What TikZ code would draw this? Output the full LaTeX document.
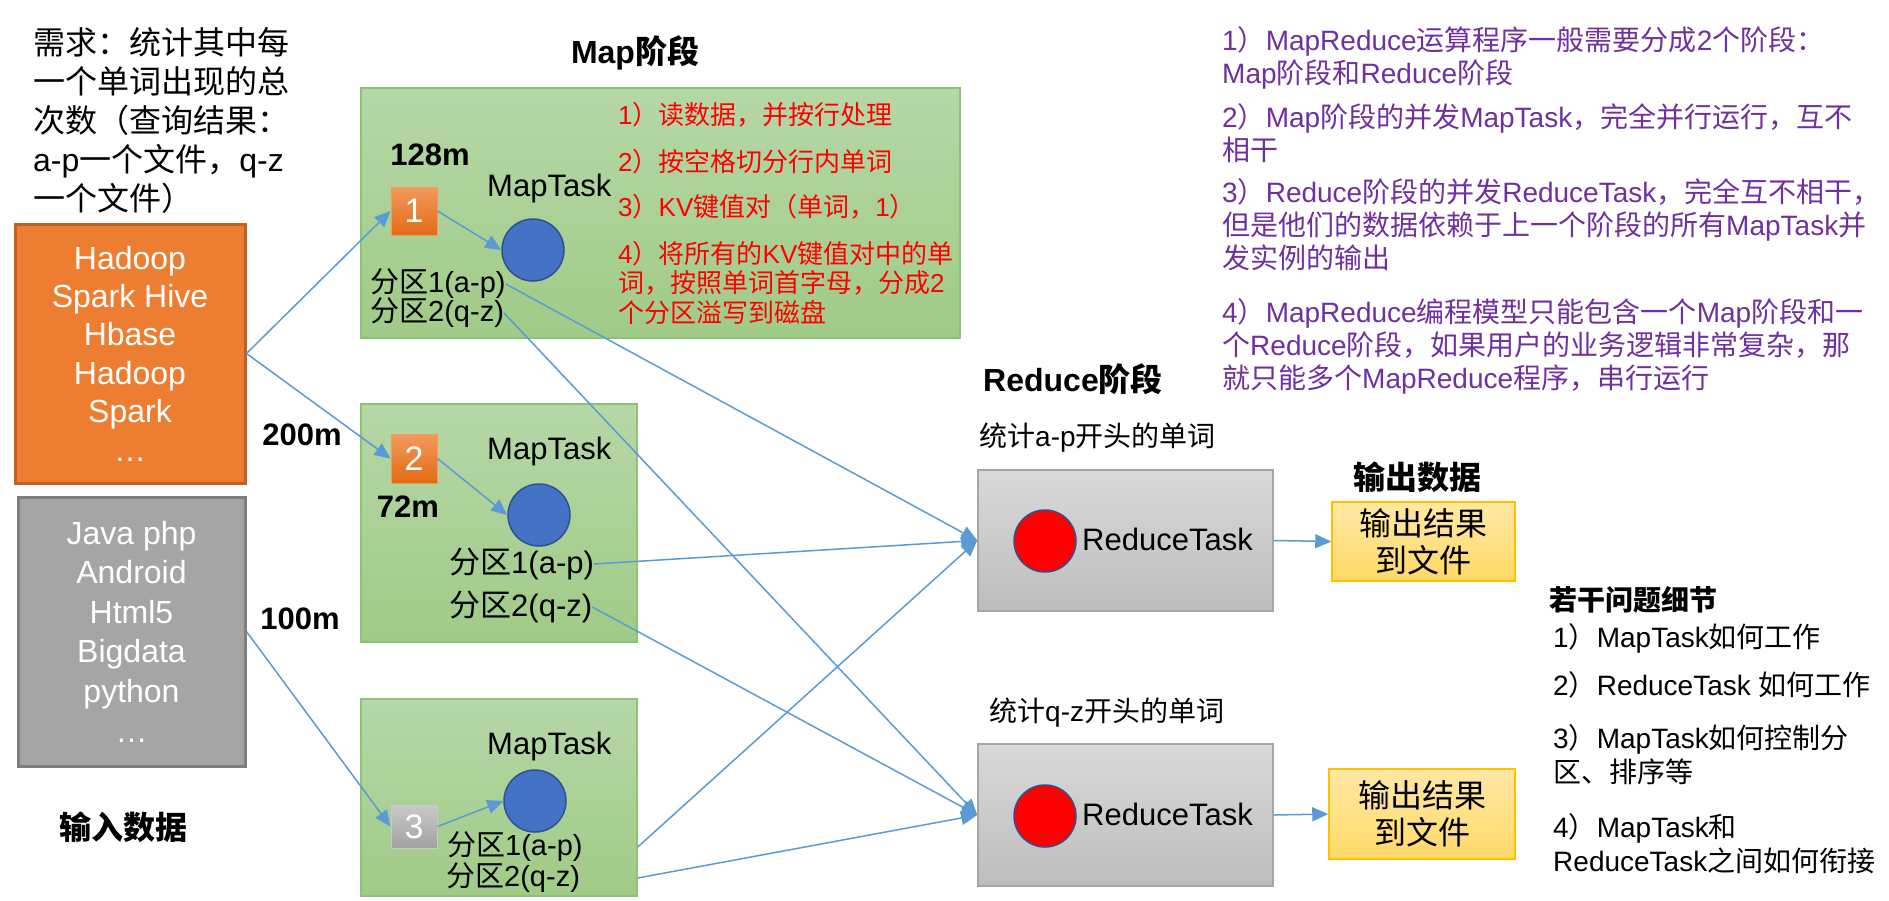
\documentclass[tikz,border=0pt]{standalone}
\usepackage{fontspec}
\setmainfont{Liberation Sans}
\newfontfamily\cjkfont{Noto Sans CJK SC}
\usetikzlibrary{arrows.meta}
\XeTeXinterchartokenstate=1
\newXeTeXintercharclass\cjkcls
\count255="3000
\loop\XeTeXcharclass\count255=\cjkcls\advance\count255 by 1 \ifnum\count255<"3040 \repeat
\count255="4E00
\loop\XeTeXcharclass\count255=\cjkcls\advance\count255 by 1 \ifnum\count255<"A000 \repeat
\count255="FF00
\loop\XeTeXcharclass\count255=\cjkcls\advance\count255 by 1 \ifnum\count255<"FFF0 \repeat
\XeTeXinterchartoks 0 \cjkcls={\begingroup\cjkfont}
\XeTeXinterchartoks 4095 \cjkcls={\begingroup\cjkfont}
\XeTeXinterchartoks \cjkcls 0={\endgroup}
\XeTeXinterchartoks \cjkcls 4095={\endgroup}
\definecolor{arrowblue}{HTML}{5B9BD5}
\definecolor{orgfill}{HTML}{ED7D31}
\definecolor{orgdraw}{HTML}{BE6128}
\definecolor{grayfill}{HTML}{A5A5A5}
\definecolor{graydraw}{HTML}{7F7F7F}
\definecolor{maptop}{HTML}{B6D7A7}
\definecolor{mapbot}{HTML}{A0CB87}
\definecolor{mapdraw}{HTML}{8CC474}
\definecolor{redtxt}{HTML}{FF0000}
\definecolor{purptxt}{HTML}{7030A0}
\definecolor{bluefill}{HTML}{4472C4}
\definecolor{bluedraw}{HTML}{2F528F}
\definecolor{redtop}{HTML}{D9D9D9}
\definecolor{redbot}{HTML}{BDBDBD}
\definecolor{reddraw}{HTML}{A6A6A6}
\definecolor{outtop}{HTML}{FFE8A6}
\definecolor{outbot}{HTML}{FFD966}
\definecolor{outdraw}{HTML}{FFC000}
\definecolor{sotop}{HTML}{F39A5C}
\definecolor{sobot}{HTML}{E26B14}
\definecolor{sgtop}{HTML}{C9C9C9}
\definecolor{sgbot}{HTML}{A2A2A2}
\tikzset{
  conn/.style={draw=arrowblue, line width=1.5pt, -{Triangle[length=16pt,width=14pt]}},
  mapbox/.style={draw=mapdraw, line width=1.5pt, top color=maptop, bottom color=mapbot, inner sep=0},
  smallorange/.style={draw=sotop, line width=1pt, top color=sotop, bottom color=sobot, text=white, inner sep=0, font=\fontsize{34}{38}\selectfont},
  smallgray/.style={draw=sgtop, line width=1pt, top color=sgtop, bottom color=sgbot, text=white, inner sep=0, font=\fontsize{34}{38}\selectfont},
  bluedot/.style={circle, fill=bluefill, draw=bluedraw, line width=1.5pt, minimum size=62pt, inner sep=0},
  reddot/.style={circle, fill=red, draw=bluedraw, line width=1.5pt, minimum size=62pt, inner sep=0},
  redbox/.style={draw=reddraw, line width=1.5pt, top color=redtop, bottom color=redbot, inner sep=0},
  outbox/.style={draw=outdraw, line width=1.5pt, top color=outtop, bottom color=outbot, align=center, inner sep=0, font=\fontsize{32}{37}\selectfont},
  lbl/.style={inner sep=0, anchor=west},
  task/.style={lbl, font=\fontsize{31}{36}\selectfont},
  part/.style={lbl, font=\fontsize{31}{27}\selectfont},
  tightpart/.style={lbl, font=\fontsize{29}{26}\selectfont},
  boldtitle/.style={inner sep=0, font=\fontsize{32}{38}\selectfont\bfseries},
  redlist/.style={lbl, align=left, text=redtxt, font=\fontsize{26}{29.5}\selectfont},
  purplist/.style={lbl, align=left, text=purptxt, font=\fontsize{28}{33}\selectfont},
  qlist/.style={lbl, align=left, font=\fontsize{28}{34}\selectfont},
}
\begin{document}
\begin{tikzpicture}[x=1pt,y=-1pt]
\fill[white] (0,0) rectangle (1889,900);
\useasboundingbox (0,0) rectangle (1889,900);
% left side
\node[lbl, align=left, font=\fontsize{32}{39}\selectfont] (req) at (33,120) {需求：统计其中每\\一个单词出现的总\\次数（查询结果：\\a-p一个文件，q-z\\一个文件）};
\node[draw=orgdraw, fill=orgfill, line width=3pt, minimum width=230pt, minimum height=259pt, align=center, text=white, inner sep=0, font=\fontsize{32}{38.4}\selectfont] (orange) at (130,353.5) {Hadoop\\Spark Hive\\Hbase\\Hadoop\\Spark\\…};
\node[draw=graydraw, fill=grayfill, line width=3pt, minimum width=227pt, minimum height=269pt, align=center, text=white, inner sep=0, font=\fontsize{32}{39.6}\selectfont] (gray) at (131.5,631.5) {Java php\\Android\\Html5\\Bigdata\\python\\…};
\node[boldtitle] (inlbl) at (123,827) {输入数据};
% map stage
\node[boldtitle] (maptitle) at (635,53) {Map阶段};
\node[mapbox, minimum width=599pt, minimum height=250pt] (m1) at (660.5,213) {};
\node[mapbox, minimum width=276pt, minimum height=238pt] (m2) at (499,523) {};
\node[mapbox, minimum width=276pt, minimum height=197pt] (m3) at (499,797.5) {};
\node[smallorange, minimum width=46pt, minimum height=48pt] (b1) at (414,211) {1};
\node[smallorange, minimum width=46pt, minimum height=49pt] (b2) at (414,458.5) {2};
\node[smallgray, minimum width=46pt, minimum height=43pt] (b3) at (414,826.5) {3};
\node[bluedot] (c1) at (533,250) {};
\node[bluedot] (c2) at (539,515) {};
\node[bluedot] (c3) at (535,801) {};
\node[task] (t1) at (487,188) {MapTask};
\node[task] (t2) at (487,451) {MapTask};
\node[task] (t3) at (487,746) {MapTask};
\node[tightpart] (p11) at (370,284) {分区1(a-p)};
\node[tightpart] (p12) at (370,313) {分区2(q-z)};
\node[part] (p21) at (449,564) {分区1(a-p)};
\node[part] (p22) at (449,607) {分区2(q-z)};
\node[tightpart] (p31) at (447,847) {分区1(a-p)};
\node[tightpart] (p32) at (446,878) {分区2(q-z)};
\node[inner sep=0, font=\fontsize{31}{36}\selectfont\bfseries] (s128) at (430,155) {128m};
\node[inner sep=0, font=\fontsize{31}{36}\selectfont\bfseries] (s72) at (408,507) {72m};
\node[inner sep=0, font=\fontsize{31}{36}\selectfont\bfseries] (s200) at (302,435) {200m};
\node[inner sep=0, font=\fontsize{31}{36}\selectfont\bfseries] (s100) at (300,619) {100m};
\node[redlist] (r1) at (618,115) {1）读数据，并按行处理};
\node[redlist] (r2) at (618,162) {2）按空格切分行内单词};
\node[redlist] (r3) at (618,207) {3）KV键值对（单词，1）};
\node[redlist] (r4) at (618,282.5) {4）将所有的KV键值对中的单\\词，按照单词首字母，分成2\\个分区溢写到磁盘};
% purple notes
\node[purplist] (n1) at (1222,57.5) {1）MapReduce运算程序一般需要分成2个阶段：\\Map阶段和Reduce阶段};
\node[purplist] (n2) at (1222,133.5) {2）Map阶段的并发MapTask，完全并行运行，互不\\相干};
\node[purplist] (n3) at (1222,225) {3）Reduce阶段的并发ReduceTask，完全互不相干，\\但是他们的数据依赖于上一个阶段的所有MapTask并\\发实例的输出};
\node[purplist] (n4) at (1222,346.5) {4）MapReduce编程模型只能包含一个Map阶段和一\\个Reduce阶段，如果用户的业务逻辑非常复杂，那\\就只能多个MapReduce程序，串行运行};
% reduce stage
\node[boldtitle] (redtitle) at (1073,379) {Reduce阶段};
\node[lbl, font=\fontsize{28}{32}\selectfont] (ap) at (979,438) {统计a-p开头的单词};
\node[lbl, font=\fontsize{28}{32}\selectfont] (qz) at (989,713) {统计q-z开头的单词};
\node[redbox, minimum width=295pt, minimum height=141pt] (rb1) at (1125.5,540.5) {};
\node[redbox, minimum width=295pt, minimum height=142pt] (rb2) at (1125.5,815) {};
\node[reddot] (rc1) at (1045,541) {};
\node[reddot] (rc2) at (1045,816) {};
\node[task] (rt1) at (1082,539) {ReduceTask};
\node[task] (rt2) at (1082,814) {ReduceTask};
% output
\node[boldtitle] (outlbl) at (1417,477) {输出数据};
\node[outbox, minimum width=183pt, minimum height=79pt] (o1) at (1423.5,541.5) {输出结果\\到文件};
\node[outbox, minimum width=186pt, minimum height=90pt] (o2) at (1422,814) {输出结果\\到文件};
% questions
\node[lbl, font=\fontsize{28}{34}\selectfont\bfseries] (qt) at (1549,600) {若干问题细节};
\node[qlist] (l1) at (1553,638) {1）MapTask如何工作};
\node[qlist] (l2) at (1553,685) {2）ReduceTask 如何工作};
\node[qlist] (l3) at (1553,755) {3）MapTask如何控制分\\区、排序等};
\node[qlist] (l4) at (1553,843.5) {4）MapTask和\\ReduceTask之间如何衔接};
% connectors
\draw[conn] (orange.east) -- (b1.west);
\draw[conn] (orange.east) -- (b2.west);
\draw[conn] (gray.east) -- (b3.west);
\draw[conn] (b1.east) -- (c1.west);
\draw[conn] (b2.east) -- (c2.west);
\draw[conn] (b3.east) -- (c3.west);
\draw[conn] (p11.east) -- (rb1.west);
\draw[conn] (p12.east) -- (rb2.west);
\draw[conn] (p21.east) -- (rb1.west);
\draw[conn] (p22.east) -- (rb2.west);
\draw[conn] (m3.east |- p31) -- (rb1.west);
\draw[conn] (m3.east |- p32) -- (rb2.west);
\draw[conn] (rb1.east) -- (o1.west);
\draw[conn] (rb2.east) -- (o2.west);
\end{tikzpicture}
\end{document}
